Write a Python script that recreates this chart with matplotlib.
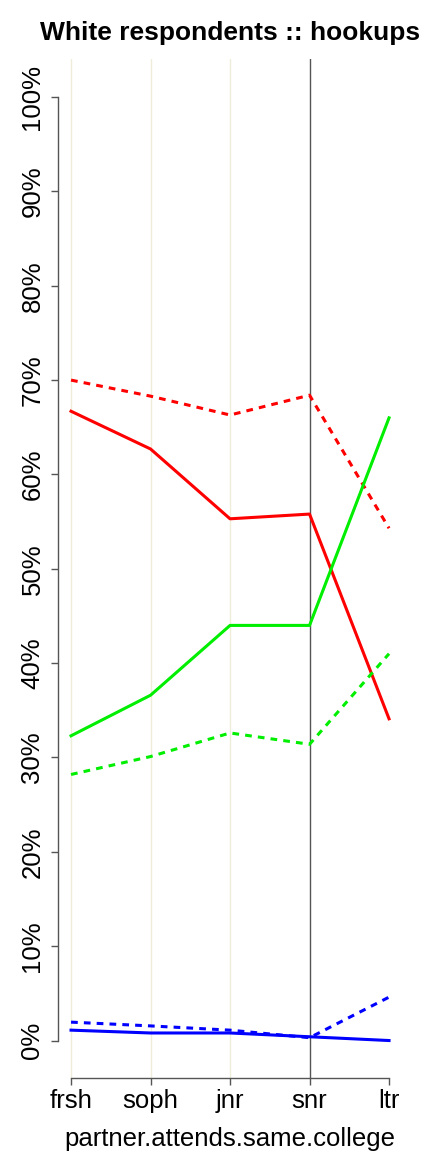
import matplotlib.pyplot as plt

plt.rcParams['font.family'] = ['Liberation Sans', 'DejaVu Sans']

# Data (percent)
years = ["frsh", "soph", "jnr", "snr", "ltr"]
red_solid = [66.7, 62.7, 55.3, 55.8, 34.1]
red_dashed = [70.0, 68.3, 66.3, 68.4, 54.3]
green_solid = [32.3, 36.6, 44.0, 44.0, 66.0]
green_dashed = [28.2, 30.1, 32.6, 31.4, 41.0]
blue_solid = [1.1, 0.8, 0.8, 0.4, 0.0]
blue_dashed = [1.95, 1.55, 1.1, 0.3, 4.6]
y_ticks = [0, 10, 20, 30, 40, 50, 60, 70, 80, 90, 100]

fig = plt.figure(figsize=(4.32, 11.52), dpi=100)
ax = fig.add_axes([0.135, 0.064, 0.795, 0.8845])

x = list(range(1, len(years) + 1))

# vertical guide lines
for xi in x[:3]:
    ax.axvline(xi, color='#efedda', lw=1, zorder=0)
ax.axvline(4, color='#555555', lw=1, zorder=0)

lw = 2.2
ax.plot(x, red_solid, color='#ff0000', lw=lw)
ax.plot(x, red_dashed, color='#ff0000', lw=lw, dashes=(2.2, 2.0))
ax.plot(x, green_solid, color='#00ee00', lw=lw)
ax.plot(x, green_dashed, color='#00ee00', lw=lw, dashes=(2.2, 2.0))
ax.plot(x, blue_solid, color='#0000ff', lw=lw)
ax.plot(x, blue_dashed, color='#0000ff', lw=lw, dashes=(2.2, 2.0))

ax.set_xlim(0.84, 5.16)
ax.set_ylim(-4, 104)

# R-style axes
for s in ['top', 'right']:
    ax.spines[s].set_visible(False)
ax.spines['left'].set_bounds(0, 100)
ax.spines['bottom'].set_bounds(1, 5)
for s in ['left', 'bottom']:
    ax.spines[s].set_color('#555555')
    ax.spines[s].set_linewidth(1)

ax.set_xticks(x)
ax.set_xticklabels(years, fontsize=18.5)
ax.set_yticks(y_ticks)
ax.set_yticklabels([f"{v}%" for v in y_ticks], fontsize=18.5, rotation=90, va='center')
ax.tick_params(axis='both', length=5, color='#555555', width=1)
ax.tick_params(axis='y', pad=5)
ax.tick_params(axis='x', pad=3)

ax.set_xlabel("partner.attends.same.college", fontsize=18.5, labelpad=10)
ax.set_title("White respondents :: hookups", fontsize=19, fontweight='bold', pad=14)

fig.savefig("out.png", dpi=100)
